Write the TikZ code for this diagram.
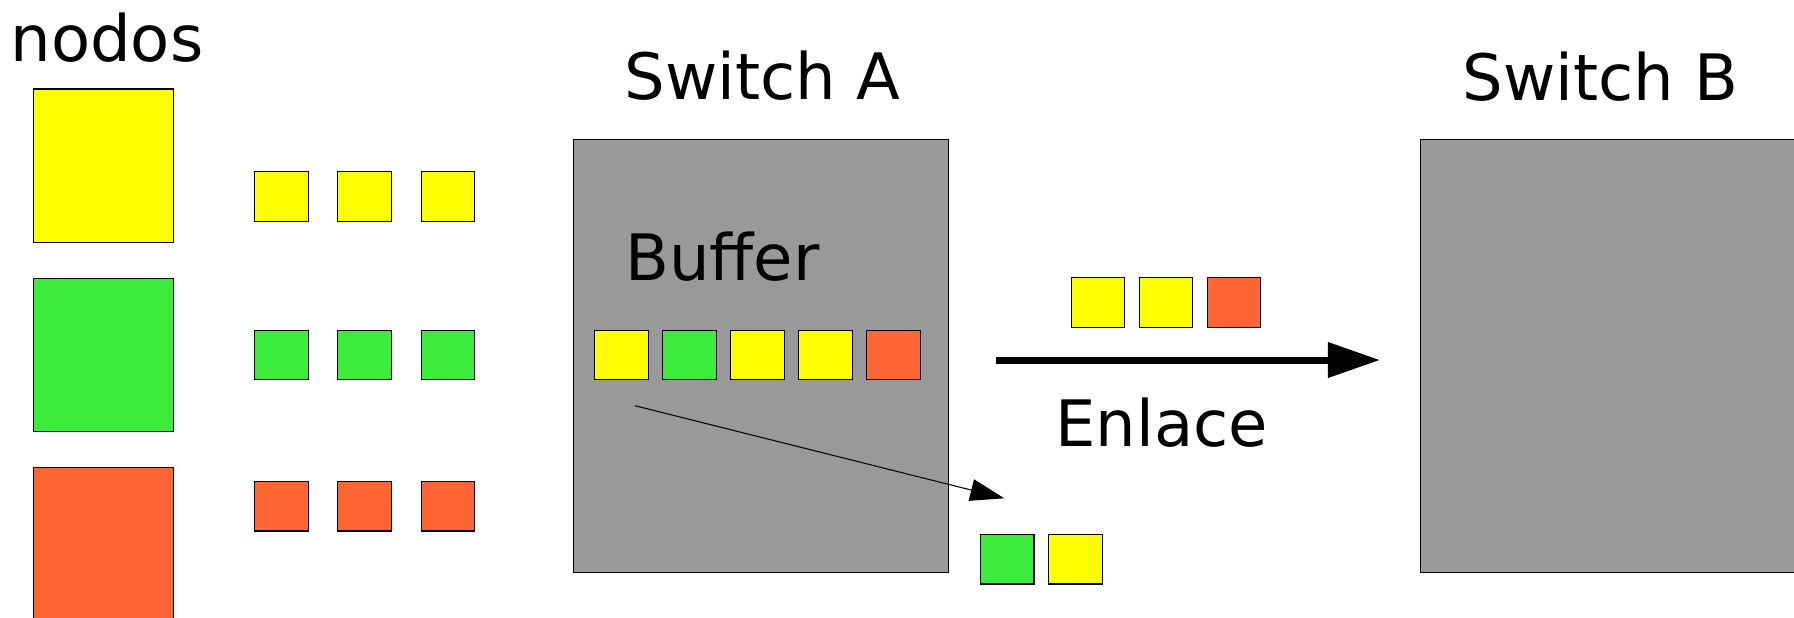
\documentclass[tikz,border=0pt]{standalone}
\usepackage{fontspec}
\setmainfont{DejaVu Sans}
\usepackage{xcolor}
\usepackage{tikz}
\usetikzlibrary{positioning, arrows.meta}

\definecolor{pktyellow}{RGB}{255,255,0}
\definecolor{pktgreen}{RGB}{61,235,61}
\definecolor{pktorange}{RGB}{255,102,51}
\definecolor{swgray}{RGB}{153,153,153}

\begin{document}
\begin{tikzpicture}[x=0.01cm, y=-0.01cm,
  pkt/.style={draw, line width=0.3pt, minimum width=0.535cm, minimum height=0.495cm, inner sep=0pt},
  host/.style={draw, line width=0.3pt, minimum width=1.39cm, minimum height=1.535cm, inner sep=0pt},
  swbox/.style={draw, fill=swgray, line width=0.3pt, minimum width=3.75cm, minimum height=4.335cm, inner sep=0pt},
  txt/.style={font=\fontsize{18.2}{22}\selectfont, inner sep=0pt, anchor=base}]
\useasboundingbox (0,0) rectangle (1794,617);
% nodos
\node[txt] (nodos) at (107,61) {nodos};
\foreach \c/\y [count=\i] in {pktyellow/165.8, pktgreen/355, pktorange/544.4}
  \node[host, fill=\c] (host\i) at (103.5,\y) {};
\foreach \c/\y [count=\i] in {pktyellow/196.4, pktgreen/355, pktorange/506.2}
  \foreach \x [count=\j] in {281.3, 364.3, 447.8}
    \node[pkt, fill=\c] (src\i\j) at (\x,\y) {};
% switches
\node[swbox] (swA) at (760.8,356) {};
\node[swbox] (swB) at (1608.5,356) {};
\node[txt] (swAtxt) at (762.5,99.5) {Switch A};
\node[txt] (swBtxt) at (1600.5,100.4) {Switch B};
\node[txt] (buftxt) at (722.5,280) {Buffer};
\foreach \c [count=\i] in {pktyellow, pktgreen, pktyellow, pktyellow, pktorange}
  \node[pkt, fill=\c] (buf\i) at ({553.3+68*\i},355) {};
% enlace
\coordinate (lnkA) at (996,360);
\coordinate (lnkB) at (1380,360);
\draw[line width=0.07cm, -{Triangle[length=0.52cm, width=0.34cm]}] (lnkA) -- (lnkB);
\foreach \c [count=\i] in {pktyellow, pktyellow, pktorange}
  \node[pkt, fill=\c] (lnk\i) at ({1029.8+68*\i},302.3) {};
\node[txt] (lnktxt) at (1161.7,446.7) {Enlace};
% salida del buffer
\coordinate (dropA) at (635,405.7);
\coordinate (dropB) at (1004.3,498.3);
\draw[line width=0.3pt, -{Triangle[length=0.34cm, width=0.22cm]}] (dropA) -- (dropB);
\node[pkt, fill=pktgreen] (out1) at (1007.2,559.2) {};
\node[pkt, fill=pktyellow] (out2) at (1075.3,559.2) {};
\end{tikzpicture}
\end{document}
